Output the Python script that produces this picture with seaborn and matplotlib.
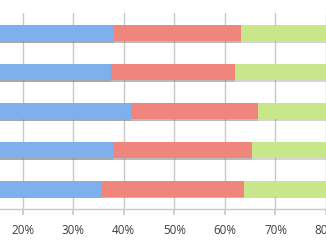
import matplotlib
matplotlib.use("Agg")
import matplotlib.pyplot as plt
import matplotlib.patheffects as pe
import seaborn as sns
import pandas as pd

categories = ["Q1", "Q2", "Q3", "Q4", "Q5"]
blue_vals = [38.1, 37.5, 41.5, 37.9, 35.7]
red_vals = [25.0, 24.5, 25.1, 27.5, 28.0]
green_vals = [36.9, 38.0, 33.4, 34.6, 36.3]
tick_vals = [20, 30, 40, 50, 60, 70, 80]
tick_labels = ["20%", "30%", "40%", "50%", "60%", "70%", "80%"]

sns.set_theme(style="white")
plt.rcParams['font.family'] = ['Open Sans', 'DejaVu Sans']

df = pd.DataFrame({
    "cat": categories,
    "blue": blue_vals,
    "red": red_vals,
    "green": green_vals,
})
df["c1"] = df["blue"]
df["c2"] = df["blue"] + df["red"]
df["c3"] = df["c2"] + df["green"]

fig = plt.figure(figsize=(3.26, 2.45), dpi=100)
ax = fig.add_axes([0.0, 0.147, 1.0, 0.800])

for col, color in [("c3", "#C8E68A"), ("c2", "#F0857E"), ("c1", "#7EB0EB")]:
    sns.barplot(data=df, x=col, y="cat", orient="h", color=color,
                width=0.41, ax=ax, saturation=1, zorder=2,
                linewidth=0, edgecolor="none")

shadow = [pe.SimplePatchShadow(offset=(0, -1.2), shadow_rgbFace="#888888", alpha=0.35), pe.Normal()]
for p in ax.patches:
    p.set_path_effects(shadow)

ax.set_xlim(15.55, 78.6)
ax.set_ylim(4.52, -0.52)
ax.set_xticks(tick_vals)
ax.set_xticklabels(tick_labels, fontsize=8.4, color="#404040")
ax.set_yticks([])
ax.set_xlabel("")
ax.set_ylabel("")
ax.xaxis.grid(True, color="#C8C8C8", linewidth=1.0, zorder=0)
ax.set_axisbelow(True)
for s in ["top", "left", "right"]:
    ax.spines[s].set_visible(False)
ax.spines["bottom"].set_color("#C8C8C8")
ax.spines["bottom"].set_linewidth(1.0)
ax.tick_params(axis="x", length=4, color="#C8C8C8", pad=6.5, bottom=True)

fig.savefig("out.png", dpi=100)
